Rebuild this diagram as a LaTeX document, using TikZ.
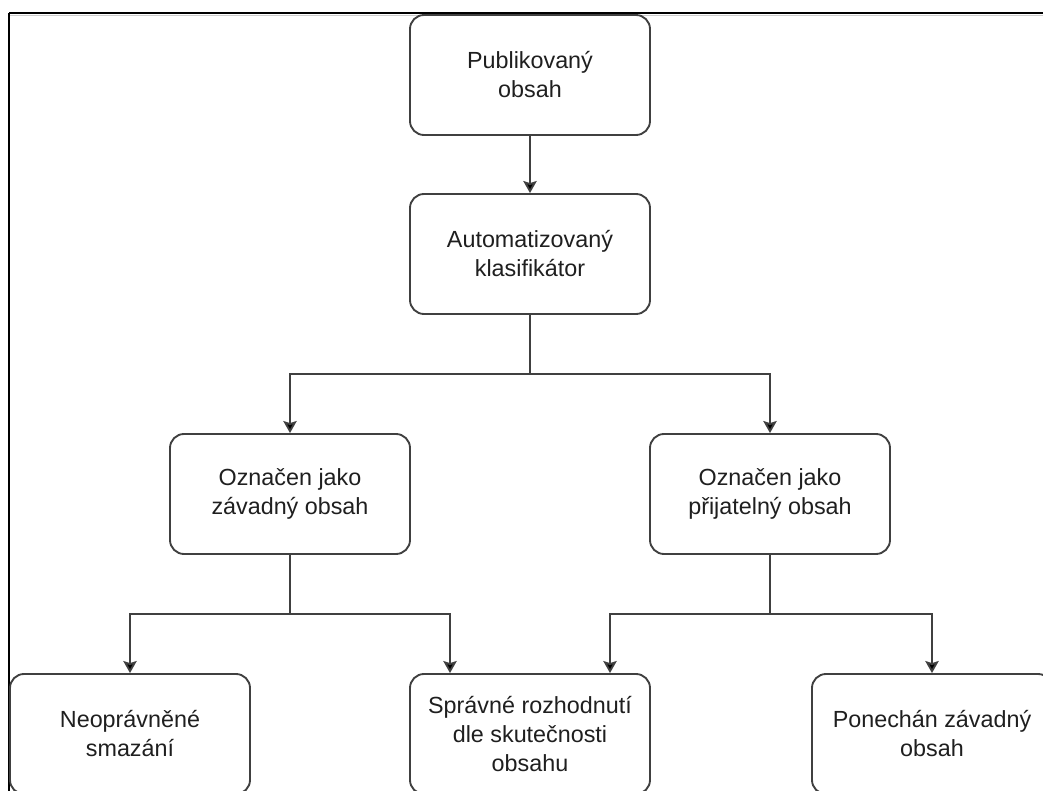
\documentclass[tikz,border=0pt]{standalone}
\usepackage{fontspec}
\setmainfont{Liberation Sans}
\usetikzlibrary{arrows.meta,calc}

\definecolor{edgegray}{HTML}{404040}
\definecolor{textgray}{HTML}{1F1F1F}

\tikzset{
  stepbox/.style={draw=edgegray, line width=1.4pt, rounded corners=10.5pt,
    minimum width=180pt, minimum height=90pt, align=center, text=textgray,
    font=\fontsize{17.5pt}{21.75pt}\selectfont, inner sep=0pt},
  flow/.style={draw=edgegray, line width=1.4pt},
  flowarrow/.style={flow, -{Stealth[length=9pt,width=10pt,inset=1.5pt,fill=black]}},
  framerule/.style={draw=black, line width=1.6pt}
}

\begin{document}
\begin{tikzpicture}[x=0.75pt, y=-0.75pt]
  \useasboundingbox (0,0) rectangle (1043,791);
  \clip (0,0) rectangle (1043,791);
  \fill[white] (0,0) rectangle (1043,791);

  % outer frame (top and left edges)
  \draw[black!20, line width=0.8pt] (10,15.5) -- (1043,15.5);
  \draw[framerule] (9,13) -- (1043,13);
  \draw[framerule] (9,13) -- (9,791);

  % process boxes
  \node[stepbox] (pub)  at (530,75)  {Publikovaný\\obsah};
  \node[stepbox] (klas) at (530,254) {Automatizovaný\\klasifikátor};
  \node[stepbox] (zav)  at (290,494) {Označen jako\\závadný obsah};
  \node[stepbox] (prij) at (770,494) {Označen jako\\přijatelný obsah};
  \node[stepbox] (smaz) at (130,734) {Neoprávněné\\smazání};
  \node[stepbox] (spr)  at (530,734) {Správné rozhodnutí\\dle skutečnosti\\obsahu};
  \node[stepbox] (pon)  at (932,734) {Ponechán závadný\\obsah};

  % junctions of the branching connectors
  \coordinate (j1) at (530,374);
  \coordinate (j2) at (290,614);
  \coordinate (j3) at (770,614);
  \coordinate (sprL) at ($(spr.north)+(-80,0)$);
  \coordinate (sprR) at ($(spr.north)+(80,0)$);

  % connectors
  \draw[flowarrow] (pub.south) -- (klas.north);

  \draw[flow] (klas.south) -- (j1);
  \draw[flowarrow] (j1) -| (zav.north);
  \draw[flowarrow] (j1) -| (prij.north);

  \draw[flow] (zav.south) -- (j2);
  \draw[flowarrow] (j2) -| (smaz.north);
  \draw[flowarrow] (j2) -| (sprL);

  \draw[flow] (prij.south) -- (j3);
  \draw[flowarrow] (j3) -| (sprR);
  \draw[flowarrow] (j3) -| (pon.north);
\end{tikzpicture}
\end{document}
